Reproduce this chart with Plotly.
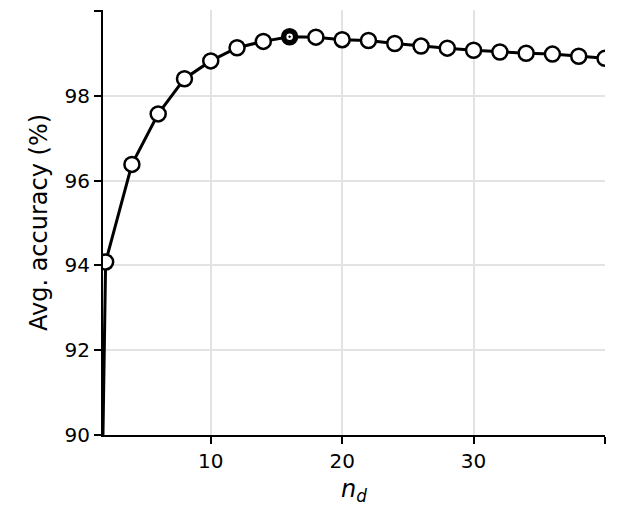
import plotly.graph_objects as go

nd = [1, 2, 4, 6, 8, 10, 12, 14, 16, 18, 20, 22, 24, 26, 28, 30, 32, 34, 36, 38, 40]
acc = [74.0, 94.08, 96.38, 97.57, 98.4, 98.82, 99.13, 99.28, 99.39, 99.38, 99.32, 99.3,
       99.23, 99.17, 99.12, 99.07, 99.03, 99.0, 98.98, 98.93, 98.88]
best_nd = [16]
best_acc = [99.39]

fig = go.Figure()
fig.add_trace(go.Scatter(
    x=nd, y=acc, mode="lines+markers",
    line=dict(color="black", width=3),
    marker=dict(size=15, color="white", line=dict(color="black", width=2.5)),
    showlegend=False))
fig.add_trace(go.Scatter(
    x=best_nd, y=best_acc, mode="markers",
    marker=dict(size=15, color="black", symbol="circle"), showlegend=False))
fig.add_trace(go.Scatter(
    x=best_nd, y=best_acc, mode="markers",
    marker=dict(size=8, color="white", symbol="circle-dot",
                line=dict(color="black", width=1.5)), showlegend=False))

axis_common = dict(showline=True, linecolor="black", linewidth=2, ticks="outside",
                   ticklen=7, tickwidth=2, tickcolor="black", showgrid=True,
                   gridcolor="#e3e3e3", gridwidth=1.5, zeroline=False,
                   tickfont=dict(size=20, color="black", family="DejaVu Sans"), mirror=False)
fig.update_xaxes(range=[1.8, 40], tickvals=[10, 20, 30, 40],
                 title=dict(text="<i>n</i><sub><i>d</i></sub>",
                            font=dict(size=24, color="black", family="DejaVu Sans"), standoff=10),
                 **axis_common)
fig.update_yaxes(range=[90, 100.02], tickvals=[90, 92, 94, 96, 98, 100],
                 title=dict(text="Avg. accuracy (%)",
                            font=dict(size=24, color="black", family="DejaVu Sans"), standoff=10),
                 **axis_common)
fig.update_layout(width=604, height=498, margin=dict(l=95, r=7, t=2, b=71),
                  plot_bgcolor="white", paper_bgcolor="white",
                  font=dict(family="DejaVu Sans", color="black", size=20))
fig.write_html("out.html")
